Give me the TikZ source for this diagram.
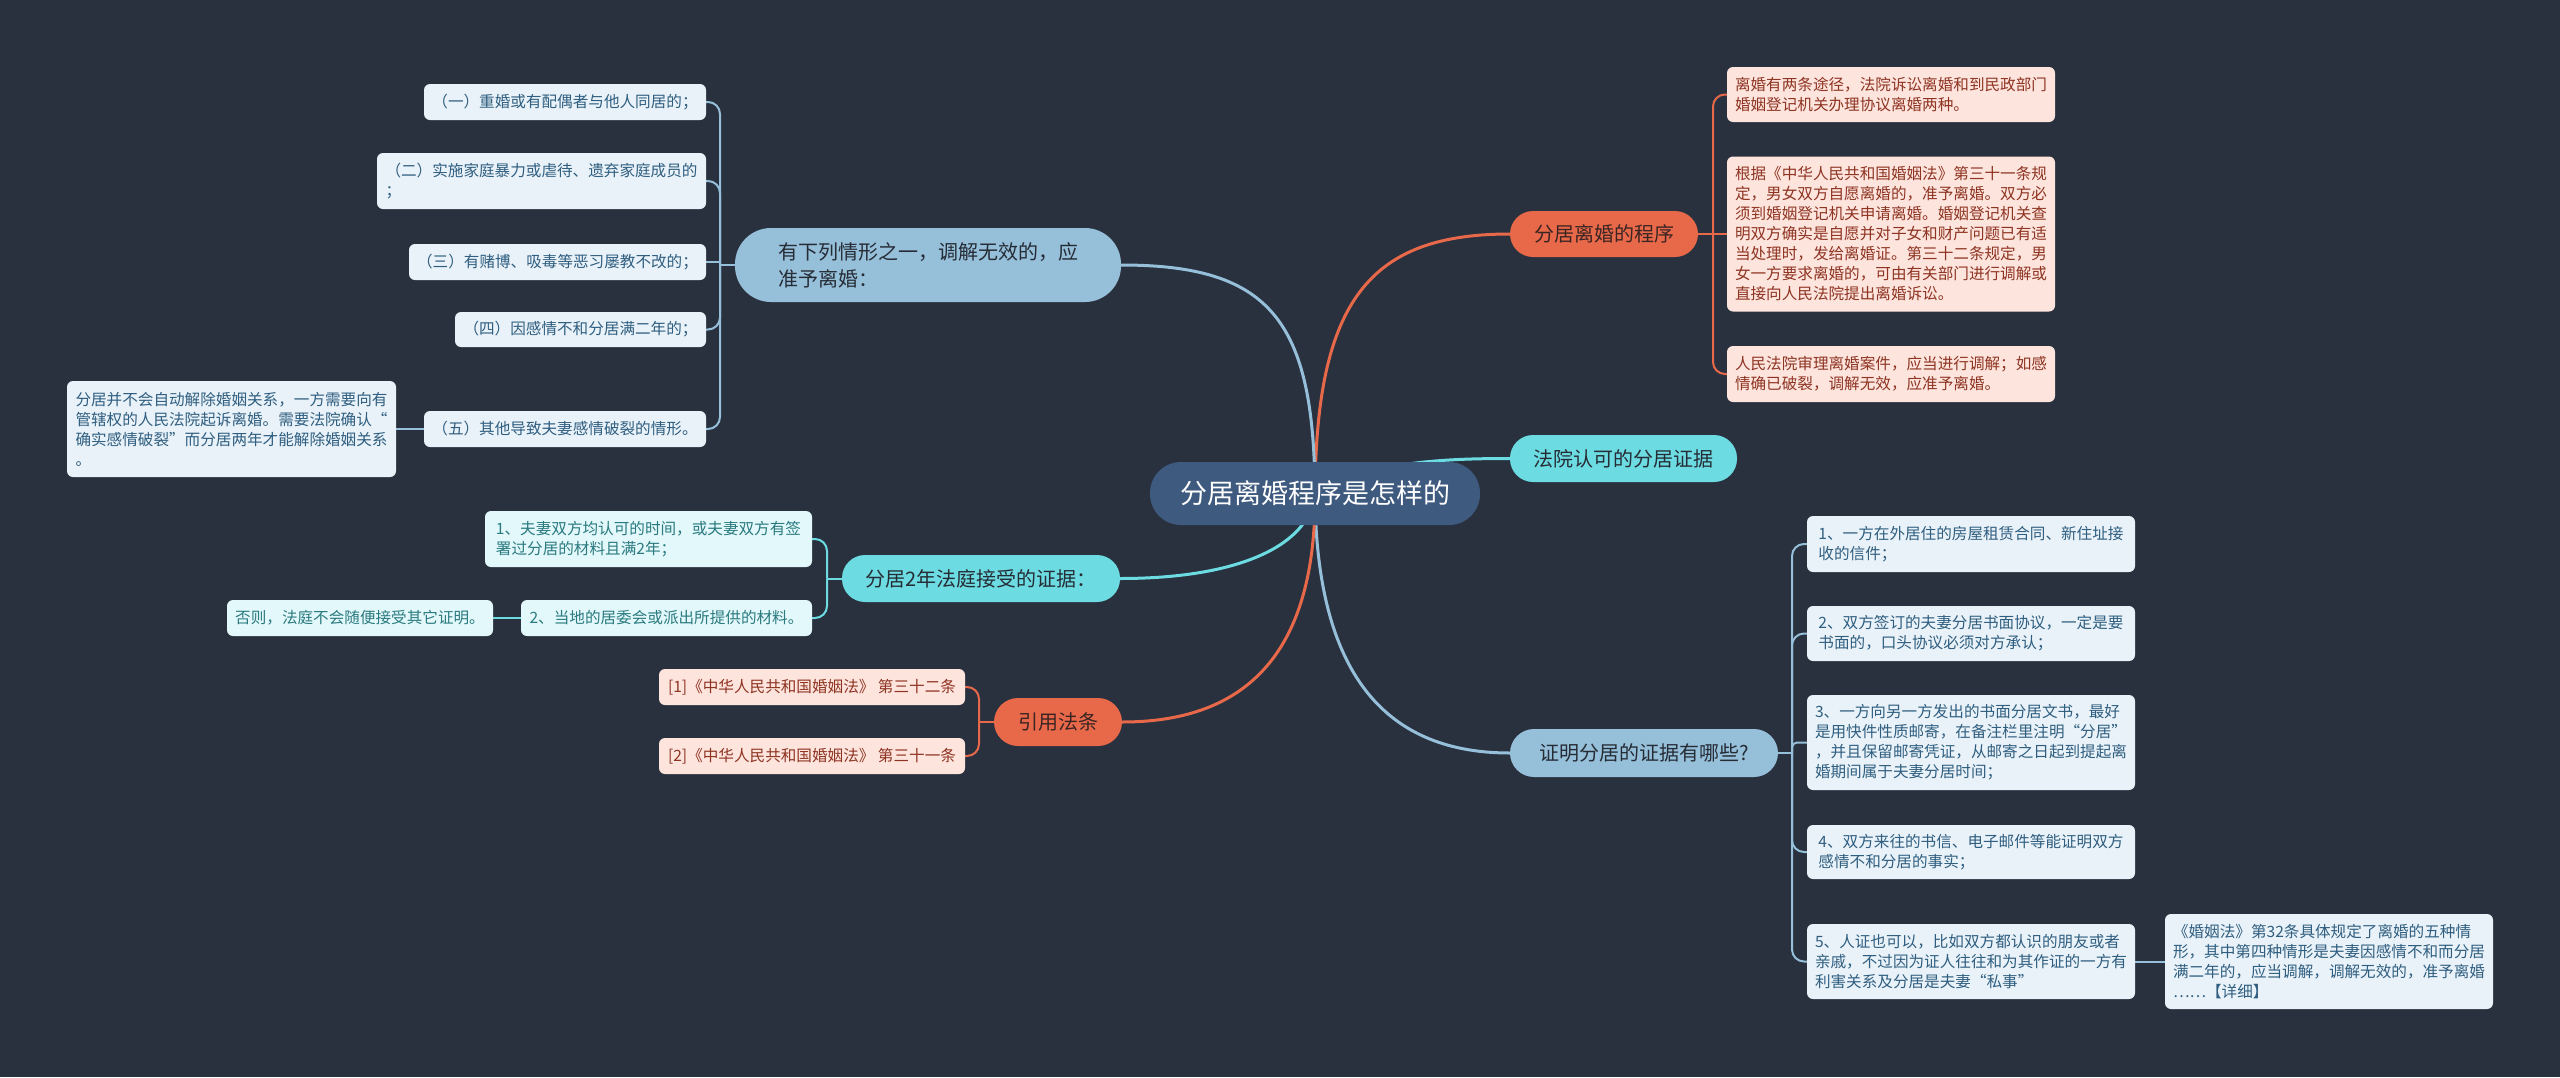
\documentclass[tikz,border=0pt]{standalone}
\usepackage{fontspec}
\setmainfont{Noto Sans CJK SC}
\definecolor{bgc}{HTML}{29313F}
\definecolor{rootc}{HTML}{3F5A7F}
\definecolor{orc}{HTML}{E8684A}
\definecolor{cyc}{HTML}{6CDCE2}
\definecolor{lbc}{HTML}{96BFDA}
\definecolor{pinkf}{HTML}{FDE4DD}
\definecolor{pinkt}{HTML}{8E3422}
\definecolor{bluef}{HTML}{E9F2F8}
\definecolor{bluet}{HTML}{2F5E80}
\definecolor{cyanf}{HTML}{E2F8FA}
\definecolor{cyant}{HTML}{2A7A7F}
\definecolor{darkt}{HTML}{262C35}
\definecolor{darkr}{HTML}{3A2522}
\pgfdeclarelayer{bglayer}
\pgfdeclarelayer{edgelayer}
\pgfsetlayers{bglayer,edgelayer,main}
\tikzset{
  mainnode/.style={inner sep=0pt, align=left, font=\fontsize{20}{27}\selectfont},
  leafnode/.style={rounded corners=6pt, inner sep=0pt, align=left, font=\fontsize{15.6}{20}\selectfont},
  leafP/.style={leafnode, fill=pinkf, text=pinkt},
  leafB/.style={leafnode, fill=bluef, text=bluet},
  leafC/.style={leafnode, fill=cyanf, text=cyant},
  mainedge/.style={line width=3pt},
  leafedge/.style={line width=2pt, rounded corners=12pt},
  sz/.style 2 args={minimum width=#1, minimum height=#2}
}
\begin{document}
\begin{tikzpicture}[x=1pt,y=-1pt]
\begin{pgfonlayer}{bglayer}
\fill[bgc] (0,0) rectangle (2560,1077);
\end{pgfonlayer}
\useasboundingbox (0,0) rectangle (2560,1077);

% root and main branches
\node[inner sep=0pt, fill=rootc, text=white, rounded corners=31pt, sz={330}{63}, font=\fontsize{27}{32}\selectfont] (root) at (1315,493.5) {分居离婚程序是怎样的};
\node[mainnode, fill=orc, text=darkr, rounded corners=23pt, sz={188}{46}] (P) at (1604,234) {分居离婚的程序};
\node[mainnode, fill=cyc, text=darkt, rounded corners=23pt, sz={227}{47}] (C) at (1623.5,458.5) {法院认可的分居证据};
\node[mainnode, fill=lbc, text=darkt, rounded corners=24pt, sz={268}{48}] (Z) at (1644,753) {证明分居的证据有哪些?};
\node[mainnode, fill=orc, text=darkr, rounded corners=24pt, sz={128}{48}] (Y) at (1058,722) {引用法条};
\node[mainnode, fill=cyc, text=darkt, rounded corners=23pt, sz={278}{47}] (F) at (981,578.5) {分居2年法庭接受的证据：};
\node[mainnode, fill=lbc, text=darkt, rounded corners=36pt, sz={386}{74}] (K) at (928,265) {有下列情形之一，调解无效的，应\\准予离婚：};

% leaves of P
\node[leafP, sz={328}{55}] (L1) at (1891,94.5) {离婚有两条途径，法院诉讼离婚和到民政部门\\婚姻登记机关办理协议离婚两种。};
\node[leafP, sz={328}{155}] (L2) at (1891,234) {根据《中华人民共和国婚姻法》第三十一条规\\定，男女双方自愿离婚的，准予离婚。双方必\\须到婚姻登记机关申请离婚。婚姻登记机关查\\明双方确实是自愿并对子女和财产问题已有适\\当处理时，发给离婚证。第三十二条规定，男\\女一方要求离婚的，可由有关部门进行调解或\\直接向人民法院提出离婚诉讼。};
\node[leafP, sz={328}{56}] (L3) at (1891,374) {人民法院审理离婚案件，应当进行调解；如感\\情确已破裂，调解无效，应准予离婚。};

% leaves of Z
\node[leafB, sz={328}{56}] (E1) at (1971,544) {1、一方在外居住的房屋租赁合同、新住址接\\收的信件；};
\node[leafB, sz={328}{55}] (E2) at (1971,633.5) {2、双方签订的夫妻分居书面协议，一定是要\\书面的，口头协议必须对方承认；};
\node[leafB, sz={328}{95}] (E3) at (1971,742.5) {3、一方向另一方发出的书面分居文书，最好\\是用快件性质邮寄，在备注栏里注明“分居”\\，并且保留邮寄凭证，从邮寄之日起到提起离\\婚期间属于夫妻分居时间；};
\node[leafB, sz={328}{54}] (E4) at (1971,852) {4、双方来往的书信、电子邮件等能证明双方\\感情不和分居的事实；};
\node[leafB, sz={328}{75}] (E5) at (1971,961.5) {5、人证也可以，比如双方都认识的朋友或者\\亲戚，不过因为证人往往和为其作证的一方有\\利害关系及分居是夫妻“私事”};
\node[leafB, sz={328}{95}] (D) at (2329,961.5) {《婚姻法》第32条具体规定了离婚的五种情\\形，其中第四种情形是夫妻因感情不和而分居\\满二年的，应当调解，调解无效的，准予离婚\\……【详细】};

% leaves of K
\node[leafB, sz={282}{36}] (A1) at (565,102) {（一）重婚或有配偶者与他人同居的；};
\node[leafB, sz={329}{56}] (A2) at (541.5,181) {（二）实施家庭暴力或虐待、遗弃家庭成员的\\；};
\node[leafB, sz={297}{36}] (A3) at (557.5,262) {（三）有赌博、吸毒等恶习屡教不改的；};
\node[leafB, sz={251}{35}] (A4) at (580.5,329.5) {（四）因感情不和分居满二年的；};
\node[leafB, sz={282}{36}] (A5) at (565,429) {（五）其他导致夫妻感情破裂的情形。};
\node[leafB, sz={329}{96}] (A5c) at (231.5,429) {分居并不会自动解除婚姻关系，一方需要向有\\管辖权的人民法院起诉离婚。需要法院确认“\\确实感情破裂”而分居两年才能解除婚姻关系\\。};

% leaves of F
\node[leafC, sz={327}{56}] (B1) at (648.5,539) {1、夫妻双方均认可的时间，或夫妻双方有签\\署过分居的材料且满2年；};
\node[leafC, sz={291}{36}] (B2) at (666.5,618) {2、当地的居委会或派出所提供的材料。};
\node[leafC, sz={266}{36}] (B2c) at (360,618) {否则，法庭不会随便接受其它证明。};

% leaves of Y
\node[leafP, sz={306}{36}] (R1) at (812,687) {[1]《中华人民共和国婚姻法》 第三十二条};
\node[leafP, sz={306}{36}] (R2) at (812,756) {[2]《中华人民共和国婚姻法》 第三十一条};

% bracket points
\coordinate (Pb) at (1713,234);
\coordinate (Zb) at (1792,753);
\coordinate (Kb) at (720,265);
\coordinate (Fb) at (827,578.5);
\coordinate (Yb) at (979,722);

\begin{pgfonlayer}{edgelayer}
% main connectors
\draw[mainedge, orc] (root.center) .. controls (1316,300) and (1370,234) .. (P.west);
\draw[mainedge, lbc] (root.center) .. controls (1314,320) and (1270,265) .. (K.east);
\draw[mainedge, cyc] (root.center) .. controls (1370,462) and (1440,458.5) .. (C.west);
\draw[mainedge, lbc] (root.center) .. controls (1316,680) and (1390,753) .. (Z.west);
\draw[mainedge, orc] (root.center) .. controls (1316,660) and (1240,722) .. (Y.east);
\draw[mainedge, cyc] (root.center) .. controls (1310,545) and (1240,578.5) .. (F.east);

% P leaves
\draw[leafedge, orc] (P.east) -- (L2.west);
\draw[leafedge, orc] (Pb) |- (L1.west);
\draw[leafedge, orc] (Pb) |- (L3.west);
% Z leaves
\draw[leafedge, lbc] (Z.east) -- (Zb);
\draw[leafedge, lbc] (Zb) |- (E1.west);
\draw[leafedge, lbc] (Zb) |- (E2.west);
\draw[leafedge, lbc, rounded corners=5pt] (Zb) |- (E3.west);
\draw[leafedge, lbc] (Zb) |- (E4.west);
\draw[leafedge, lbc] (Zb) |- (E5.west);
\draw[leafedge, lbc] (E5.east) -- (D.west);
% K leaves
\draw[leafedge, lbc] (K.west) -- (Kb);
\draw[leafedge, lbc] (Kb) |- (A1.east);
\draw[leafedge, lbc] (Kb) |- (A2.east);
\draw[line width=2pt, lbc] (Kb) |- (A3.east);
\draw[leafedge, lbc] (Kb) |- (A4.east);
\draw[leafedge, lbc] (Kb) |- (A5.east);
\draw[leafedge, lbc] (A5.west) -- (A5c.east);
% F leaves
\draw[leafedge, cyc] (F.west) -- (Fb);
\draw[leafedge, cyc] (Fb) |- (B1.east);
\draw[leafedge, cyc] (Fb) |- (B2.east);
\draw[leafedge, cyc] (B2.west) -- (B2c.east);
% Y leaves
\draw[leafedge, orc] (Y.west) -- (Yb);
\draw[leafedge, orc] (Yb) |- (R1.east);
\draw[leafedge, orc] (Yb) |- (R2.east);
\end{pgfonlayer}
\end{tikzpicture}
\end{document}
